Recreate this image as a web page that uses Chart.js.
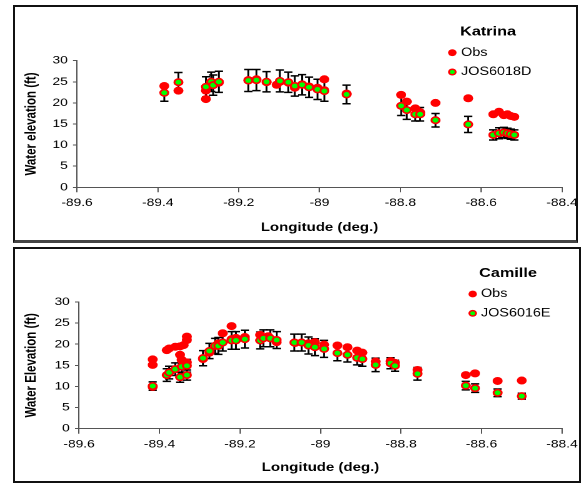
<!DOCTYPE html>
<html>
<head>
<meta charset="utf-8">
<script src="https://cdn.jsdelivr.net/npm/chart.js@4.4.1/dist/chart.umd.min.js"></script>
<style>
  html, body { margin:0; padding:0; background:#fff; }
  body { width:584px; height:484px; position:relative; overflow:hidden; }
  .box { position:absolute; border:2px solid #111; box-sizing:border-box; background:#fff; }
  .box canvas { position:absolute; left:0; top:0; }
</style>
</head>
<body>
<div class="box" style="left:13px;top:5px;width:565px;height:238px;border-bottom:3px solid #444">
  <canvas id="katrina" width="449" height="233" style="width:561px;height:233px"></canvas>
</div>
<div class="box" style="left:13px;top:247px;width:568px;height:236px">
  <canvas id="camille" width="451" height="232" style="width:564px;height:232px"></canvas>
</div>
<script>
"use strict";

// axis ticks
const xTickValues = [-89.6, -89.4, -89.2, -89.0, -88.8, -88.6, -88.4];
const yTickValues = [0, 5, 10, 15, 20, 25, 30];

// Katrina - model (JOS6018D) with error half-widths
const katrinaModelLon = [-89.384, -89.349, -89.281, -89.268, -89.263, -89.249, -89.176, -89.156, -89.131, -89.098,
                         -89.077, -89.061, -89.043, -89.026, -89.005, -88.988, -88.933, -88.798, -88.784, -88.763,
                         -88.751, -88.713, -88.632, -88.570, -88.556, -88.544, -88.535, -88.527, -88.518];
const katrinaModelVal = [22.4, 24.9, 23.8, 25.0, 24.2, 25.0, 25.3, 25.4, 25.0, 25.2,
                         24.9, 24.0, 24.3, 23.7, 23.2, 22.8, 22.0, 19.3, 18.3, 17.3,
                         17.3, 15.9, 14.9, 12.4, 12.8, 13.0, 12.8, 12.6, 12.4];
const katrinaModelErr = [2.0, 2.3, 2.4, 2.3, 2.4, 2.5, 2.6, 2.5, 2.4, 2.6,
                         2.4, 2.4, 2.4, 2.4, 2.4, 2.4, 2.2, 2.3, 2.2, 1.6,
                         1.6, 1.6, 1.9, 1.2, 1.3, 1.2, 1.2, 1.2, 1.2];
// Katrina - observations
const katrinaObsLon = [-89.384, -89.349, -89.281, -89.281, -89.268, -89.263, -89.249, -89.176, -89.156, -89.131,
                       -89.106, -89.098, -89.077, -89.061, -89.043, -89.026, -89.005, -88.988, -88.988, -88.933,
                       -88.798, -88.784, -88.763, -88.751, -88.713, -88.632, -88.570, -88.556, -88.544, -88.535,
                       -88.527, -88.518];
const katrinaObsVal = [24.0, 22.9, 20.9, 22.9, 24.6, 24.5, 24.8, 25.4, 25.6, 24.9,
                       24.3, 25.0, 24.8, 23.6, 24.4, 23.9, 23.6, 25.6, 23.0, 22.2,
                       21.9, 20.3, 18.7, 17.8, 20.0, 21.1, 17.3, 17.9, 17.1, 17.3,
                       16.9, 16.7];

// Camille - model (JOS6016E) with error half-widths
const camilleModelLon = [-89.417, -89.382, -89.376, -89.361, -89.349, -89.345, -89.332, -89.332, -89.292, -89.276,
                         -89.262, -89.254, -89.243, -89.221, -89.210, -89.188, -89.150, -89.142, -89.125, -89.109,
                         -89.065, -89.047, -89.030, -89.014, -88.991, -88.958, -88.933, -88.909, -88.896, -88.863,
                         -88.826, -88.815, -88.759, -88.639, -88.616, -88.560, -88.500];
const camilleModelVal = [10.1, 12.7, 13.3, 14.1, 12.2, 14.7, 14.9, 12.7, 16.7, 18.4,
                         19.6, 19.6, 20.4, 20.9, 20.9, 21.2, 20.9, 21.4, 21.4, 21.0,
                         20.4, 20.4, 19.7, 19.3, 18.9, 17.9, 17.5, 16.8, 16.5, 15.1,
                         15.5, 14.9, 13.0, 10.2, 9.6, 8.5, 7.7];
const camilleModelErr = [1.0, 1.5, 1.5, 1.5, 1.2, 1.5, 1.5, 1.2, 1.8, 1.8,
                         1.8, 2.0, 2.0, 2.1, 2.1, 2.1, 2.0, 2.0, 2.0, 2.0,
                         2.0, 2.0, 2.0, 2.0, 2.0, 1.8, 1.7, 1.7, 1.7, 1.6,
                         1.3, 1.3, 1.5, 1.0, 1.0, 0.9, 0.7];
// Camille - observations
const camilleObsLon = [-89.417, -89.417, -89.417, -89.382, -89.376, -89.361, -89.349, -89.349, -89.345, -89.340,
                       -89.332, -89.332, -89.332, -89.292, -89.276, -89.254, -89.243, -89.221, -89.221, -89.210,
                       -89.188, -89.150, -89.130, -89.109, -89.063, -89.030, -89.014, -88.991, -88.958, -88.933,
                       -88.909, -88.896, -88.863, -88.826, -88.815, -88.759, -88.639, -88.616, -88.560, -88.500];
const camilleObsVal = [16.4, 15.1, 9.9, 18.6, 19.0, 19.4, 19.5, 17.5, 16.3, 19.8,
                       21.8, 21.0, 15.7, 16.5, 18.0, 20.2, 22.6, 24.3, 21.2, 21.5,
                       21.7, 22.2, 21.9, 20.5, 20.3, 20.2, 20.5, 19.9, 19.7, 19.3,
                       18.5, 18.0, 15.9, 16.0, 15.6, 13.9, 12.7, 13.1, 11.3, 11.4];

Chart.defaults.font.family = "'Liberation Sans', Arial, sans-serif";
Chart.defaults.color = "#000";

const toPoints = (xs, ys) => xs.map((x, i) => ({ x: x, y: ys[i] }));

// vertical error bars drawn under the markers
const errorBars = {
  id: "errorBars",
  beforeDatasetsDraw(chart) {
    const ctx = chart.ctx, x = chart.scales.x, y = chart.scales.y;
    chart.data.datasets.forEach(ds => {
      if (!ds.err) return;
      ctx.save();
      ctx.strokeStyle = "#000";
      ctx.lineWidth = 1.5;
      ds.data.forEach((p, i) => {
        const px = x.getPixelForValue(p.x);
        const top = y.getPixelForValue(p.y + ds.err[i]);
        const bot = y.getPixelForValue(p.y - ds.err[i]);
        ctx.beginPath();
        ctx.moveTo(px, top); ctx.lineTo(px, bot);
        ctx.moveTo(px - 3.3, top); ctx.lineTo(px + 3.3, top);
        ctx.moveTo(px - 3.3, bot); ctx.lineTo(px + 3.3, bot);
        ctx.stroke();
      });
      ctx.restore();
    });
  }
};

// small legend box with a bold title, placed inside the plot like the original
const boxLegend = {
  id: "boxLegend",
  afterDraw(chart, args, opts) {
    const ctx = chart.ctx;
    ctx.save();
    ctx.fillStyle = "#000";
    ctx.textBaseline = "middle";
    ctx.textAlign = "center";
    ctx.font = "bold 13px 'Liberation Sans', Arial, sans-serif";
    ctx.fillText(opts.title, opts.titleX, opts.titleY);
    ctx.textAlign = "left";
    ctx.font = "11.5px 'Liberation Sans', Arial, sans-serif";
    const order = [1, 0];   // Obs first, then model
    order.forEach((di, row) => {
      const ds = chart.data.datasets[di];
      const ry = opts.rowY[row];
      ctx.beginPath();
      if (ds.err) {
        ctx.arc(opts.markerX, ry, 2.7, 0, Math.PI * 2);
        ctx.fillStyle = "#00ff00"; ctx.fill();
        ctx.lineWidth = 1.5; ctx.strokeStyle = "#ff0000"; ctx.stroke();
      } else {
        ctx.arc(opts.markerX, ry, 3.4, 0, Math.PI * 2);
        ctx.fillStyle = "#ff0000"; ctx.fill();
      }
      ctx.fillStyle = "#000";
      ctx.fillText(ds.label, opts.textX, ry);
    });
    ctx.restore();
  }
};

function drawPanel(canvasId, title, modelLabel, yTitle, mLon, mVal, mErr, oLon, oVal, L)
 {
   return new Chart(document.getElementById(canvasId), {
     type: "scatter",
     data: {
       datasets: [
         { label: modelLabel, data: toPoints(mLon, mVal), err: mErr,
           pointRadius: 3.2, pointBorderWidth: 1.6,
           pointBackgroundColor: "#00ff00", pointBorderColor: "#ff0000" },
         { label: "Obs", data: toPoints(oLon, oVal),
           pointRadius: 4, pointBorderWidth: 0,
           pointBackgroundColor: "#ff0000", pointBorderColor: "#ff0000" }
       ]
     },
     options: {
       responsive: false,
       devicePixelRatio: 2,
       animation: false,
       events: [],
       layout: { padding: { left: 0, top: L.padTop, right: L.padRight, bottom: 0 } },
       plugins: {
         legend: { display: false },
         tooltip: { enabled: false },
         boxLegend: { title: title, titleX: L.titleX, titleY: L.titleY,
                      markerX: L.markerX, textX: L.textX, rowY: L.rowY }
       },
       scales: {
         x: {
           type: "linear", min: -89.6, max: -88.4,
           afterBuildTicks: s => { s.ticks = xTickValues.map(v => ({ value: v })); },
           afterFit: s => { s.height = L.xAxisHeight; s.paddingLeft = 0; s.paddingRight = 0; },
           grid: { drawOnChartArea: false, drawTicks: true, tickLength: 5, color: "#555", lineWidth: 1 },
           border: { display: true, color: "#555", width: 1 },
           ticks: { font: { size: 11 }, padding: 4, maxRotation: 0, autoSkip: false,
                    callback: v => String(+Number(v).toFixed(1)) },
           title: { display: true, text: "Longitude (deg.)", font: { size: 12, weight: "bold" },
                    padding: { top: 0, bottom: L.xTitlePad } }
         },
         y: {
           type: "linear", min: 0, max: 30,
           afterBuildTicks: s => { s.ticks = yTickValues.map(v => ({ value: v })); },
           afterFit: s => { s.width = L.yAxisWidth; s.paddingTop = 0; s.paddingBottom = 0; },
           grid: { drawOnChartArea: false, drawTicks: true, tickLength: 3.2, color: "#555", lineWidth: 1 },
           border: { display: true, color: "#555", width: 1 },
           ticks: { font: { size: 11 }, padding: 4.2 },
           title: { display: true, text: yTitle, font: { size: 11.5, weight: "bold" },
                    padding: { top: 6.6, bottom: 0 } }
         }
       }
     },
     plugins: [errorBars, boxLegend]
   });
 }

drawPanel("katrina", "Katrina", "JOS6018D", "Water elevation (ft)",
          katrinaModelLon, katrinaModelVal, katrinaModelErr, katrinaObsLon, katrinaObsVal,
          { padTop: 53.7, padRight: 11.2, yAxisWidth: 49.6, xAxisHeight: 52.7, xTitlePad: 5.1,
            titleX: 378.6, titleY: 24.7, markerX: 350.0, textX: 357.0, rowY: [45.7, 65.0] });

drawPanel("camille", "Camille", "JOS6016E", "Water Elevation (ft)",
          camilleModelLon, camilleModelVal, camilleModelErr, camilleObsLon, camilleObsVal,
          { padTop: 53.0, padRight: 13.6, yAxisWidth: 51.2, xAxisHeight: 52.3, xTitlePad: 6.1,
            titleX: 394.2, titleY: 24.3, markerX: 366.0, textX: 372.6, rowY: [45.0, 64.3] });
</script>
</body>
</html>
